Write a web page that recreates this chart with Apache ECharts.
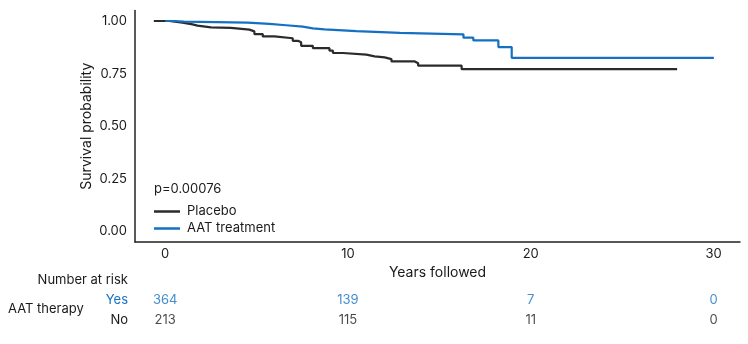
<!DOCTYPE html>
<html>
<head>
<meta charset="utf-8">
<script src="https://cdn.jsdelivr.net/npm/echarts@6/dist/echarts.min.js"></script>
<style>
  html, body { margin: 0; padding: 0; background: #fff; }
  #chart { width: 748px; height: 344px; }
</style>
</head>
<body>
<div id="chart"></div>
<script>
// Kaplan-Meier step data (time in years, survival probability)
const placeboTimes = [-0.62, 0.22, 0.95, 1.50, 1.77, 2.51, 3.60, 4.61, 4.88, 5.34, 5.98, 6.98, 7.26, 7.44, 8.08, 8.99, 9.18, 9.73, 11.01, 11.46, 12.01, 12.38, 13.66, 13.84, 16.22, 28.01];
const placeboSurv  = [1.000, 0.992, 0.984, 0.978, 0.970, 0.967, 0.959, 0.951, 0.938, 0.927, 0.918, 0.906, 0.899, 0.882, 0.871, 0.859, 0.848, 0.840, 0.832, 0.827, 0.819, 0.808, 0.799, 0.788, 0.771, 0.771];
const aatTimes = [0, 0.49, 1.04, 4.51, 5.70, 6.62, 7.53, 8.08, 8.72, 10.46, 12.84, 16.32, 16.86, 18.23, 18.96, 30.02];
const aatSurv  = [1.000, 0.997, 0.992, 0.986, 0.980, 0.973, 0.965, 0.960, 0.952, 0.944, 0.937, 0.921, 0.908, 0.876, 0.825, 0.825];

const xTicks = [0, 10, 20, 30];
const yTicks = [0, 0.25, 0.5, 0.75, 1];

// Number at risk table
const riskTimes = [0, 10, 20, 30];
const riskYes = [364, 139, 7, 0];
const riskNo  = [213, 115, 11, 0];
const riskGroups = ['No', 'Yes'];

const seriesNames = ['Placebo', 'AAT treatment'];
const pValueText = 'p=0.00076';

const BLACK = '#2b2b2b';
const BLUE = '#1470c2';
const TEXT = '#1a1a1a';
const FONT = 'Inter';

const zip = (a, b) => a.map((v, i) => [v, b[i]]);

const chart = echarts.init(document.getElementById('chart'));
const XMIN = -1.65, XMAX = 31.45;

chart.setOption({
  animation: false,
  textStyle: { fontFamily: FONT },
  grid: [
    { left: 135, right: 8, top: 10.5, height: 231.5 },
    { left: 135, right: 8, top: 290, height: 40 }
  ],
  xAxis: [
    {
      gridIndex: 0, type: 'value', min: XMIN, max: XMAX,
      name: 'Years followed', nameLocation: 'middle', nameGap: 13,
      nameTextStyle: { color: TEXT, fontSize: 14, fontFamily: FONT },
      axisLine: { show: true, onZero: false, lineStyle: { color: '#222', width: 1.5 } },
      axisTick: { show: false },
      splitLine: { show: false },
      axisLabel: { customValues: xTicks, color: TEXT, fontSize: 13, margin: 6, fontFamily: FONT }
    },
    {
      gridIndex: 1, type: 'value', min: XMIN, max: XMAX, show: false
    }
  ],
  yAxis: [
    {
      gridIndex: 0, type: 'value', min: -0.05, max: 1.05,
      name: 'Survival probability', nameLocation: 'middle', nameGap: 41, nameRotate: 90,
      nameMoveOverlap: false,
      nameTextStyle: { color: TEXT, fontSize: 14, fontFamily: FONT },
      axisLine: { show: true, onZero: false, lineStyle: { color: '#222', width: 1.5 } },
      axisTick: { show: false },
      splitLine: { show: false },
      axisLabel: {
        customValues: yTicks, color: TEXT, fontSize: 13, margin: 8, fontFamily: FONT,
        formatter: v => v.toFixed(2)
      }
    },
    {
      gridIndex: 1, type: 'category', data: riskGroups,
      axisLine: { show: false }, axisTick: { show: false }, splitLine: { show: false },
      axisLabel: {
        fontSize: 13, margin: 7, fontFamily: FONT,
        color: (v) => v === 'Yes' ? BLUE : TEXT
      }
    }
  ],
  legend: {
    left: 149, top: 200, orient: 'vertical',
    icon: 'rect', itemWidth: 26, itemHeight: 2.5, itemGap: 4,
    textStyle: { color: TEXT, fontSize: 13, fontFamily: FONT, padding: [0, 0, 0, 2] },
    data: seriesNames
  },
  graphic: [
    { type: 'text', left: 154, top: 183, style: { text: pValueText, fill: TEXT, font: '13px Inter' } },
    { type: 'text', right: 748 - 128, top: 274, style: { text: 'Number at risk', fill: TEXT, font: '13px Inter', align: 'right' } },
    { type: 'text', left: 8, top: 303, style: { text: 'AAT therapy', fill: TEXT, font: '13px Inter' } }
  ],
  series: [
    {
      name: seriesNames[0], type: 'line', step: 'end', xAxisIndex: 0, yAxisIndex: 0,
      data: zip(placeboTimes, placeboSurv), symbol: 'none',
      lineStyle: { color: BLACK, width: 2.2 }, itemStyle: { color: BLACK }
    },
    {
      name: seriesNames[1], type: 'line', step: 'end', xAxisIndex: 0, yAxisIndex: 0,
      data: zip(aatTimes, aatSurv), symbol: 'none',
      lineStyle: { color: BLUE, width: 2.2 }, itemStyle: { color: BLUE }
    },
    {
      name: 'riskYes', type: 'scatter', xAxisIndex: 1, yAxisIndex: 1,
      data: riskTimes.map((t, i) => [t, 'Yes', riskYes[i]]), symbolSize: 0,
      label: { show: true, position: 'inside', formatter: p => p.value[2], color: BLUE, fontSize: 13, fontFamily: FONT }
    },
    {
      name: 'riskNo', type: 'scatter', xAxisIndex: 1, yAxisIndex: 1,
      data: riskTimes.map((t, i) => [t, 'No', riskNo[i]]), symbolSize: 0,
      label: { show: true, position: 'inside', formatter: p => p.value[2], color: TEXT, fontSize: 13, fontFamily: FONT }
    }
  ]
});
</script>
</body>
</html>
